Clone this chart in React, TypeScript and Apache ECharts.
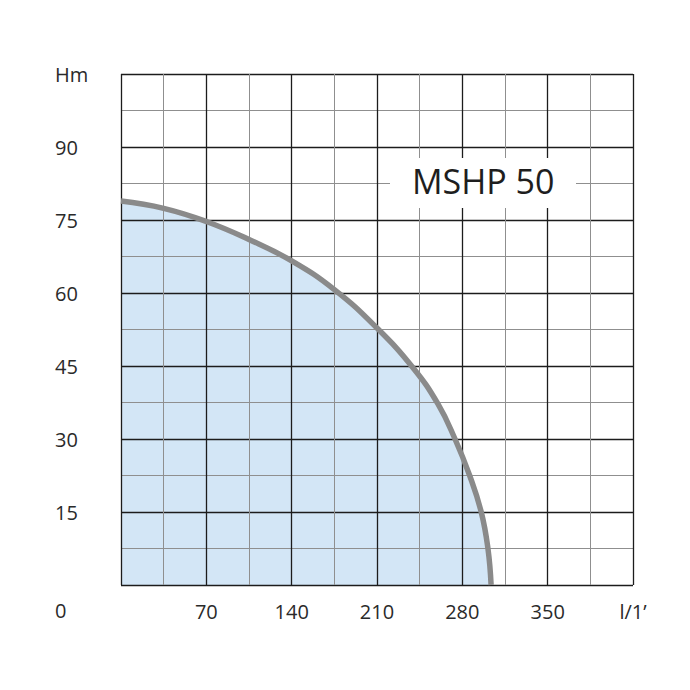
import * as echarts from 'echarts'
import { useEffect, useRef } from 'react'

// pump curve MSHP 50: flow (l/1') vs head (Hm)
const flowValues = [0, 35, 70, 105, 140, 175, 210, 240, 260, 274, 286, 295.5, 301, 303.6]
const headValues = [78.9, 77.4, 74.7, 71, 66.6, 60.7, 52.8, 44.5, 37.2, 30, 22.5, 15, 7.5, 0]

const xTicks = [70, 140, 210, 280, 350] // labelled ticks, 420 carries the unit
const yTicks = [15, 30, 45, 60, 75, 90] // 105 carries the unit
const xUnit = 'l/1’'
const yUnit = 'Hm'
const modelName = 'MSHP 50'

const FONT = '"Open Sans", "Noto Sans", sans-serif'

const App = () => {
  const chartRef = useRef<HTMLDivElement>(null)

  useEffect(() => {
    if (!chartRef.current) return
    const chart = echarts.init(chartRef.current, undefined, { renderer: 'svg' })

    const points = flowValues.map((x, i) => [x, headValues[i]])

    const minorLine = { show: true, lineStyle: { color: '#8f8f8f', width: 1 } }
    const majorLine = { show: true, lineStyle: { color: '#1c1c1c', width: 1.3 } }

    chart.setOption({
      animation: false,
      backgroundColor: '#fff',
      grid: { left: 121, top: 74, width: 512, height: 511 },
      xAxis: [
        {
          type: 'value', position: 'bottom', min: 0, max: 420, interval: 35, z: 2,
          axisLine: { show: false }, axisTick: { show: false }, axisLabel: { show: false },
          splitLine: minorLine,
        },
        {
          type: 'value', position: 'bottom', min: 0, max: 420, interval: 70, z: 2,
          axisLine: { show: false }, axisTick: { show: false },
          splitLine: majorLine,
          axisLabel: {
            margin: 16, fontSize: 20, color: '#2a2a2a', fontFamily: FONT,
            formatter: (v: number) => (v === 420 ? xUnit : xTicks.includes(v) ? String(v) : ''),
          },
        },
      ],
      yAxis: [
        {
          type: 'value', min: 0, max: 105, interval: 7.5, z: 2,
          axisLine: { show: false }, axisTick: { show: false }, axisLabel: { show: false },
          splitLine: minorLine,
        },
        {
          type: 'value', position: 'left', min: 0, max: 105, interval: 15, z: 2,
          axisLine: { show: false }, axisTick: { show: false },
          splitLine: majorLine,
          axisLabel: {
            margin: 66, align: 'left', fontSize: 20, color: '#2a2a2a', fontFamily: FONT,
            formatter: (v: number) => (v === 105 ? yUnit : yTicks.includes(v) ? String(v) : ''),
          },
        },
      ],
      graphic: [
        {
          type: 'text', left: 55, top: 600, z: 10,
          style: { text: '0', fontSize: 20, fill: '#2a2a2a', fontFamily: FONT },
        },
        {
          type: 'rect', left: 390, top: 158, z: 10,
          shape: { width: 186, height: 50 }, style: { fill: '#ffffff' },
        },
        {
          type: 'text', left: 412, top: 164, z: 11,
          style: { text: modelName, fontSize: 34, fill: '#1e1e1e', fontFamily: FONT },
        },
      ],
      series: [
        {
          type: 'line', xAxisIndex: 0, yAxisIndex: 0, data: points, smooth: 0.45,
          showSymbol: false, z: 1, lineStyle: { width: 0 },
          areaStyle: { color: '#d3e6f6', opacity: 1 },
        },
        {
          type: 'line', xAxisIndex: 0, yAxisIndex: 0, data: points, smooth: 0.45,
          showSymbol: false, z: 3, lineStyle: { width: 5.5, color: '#8a8a8a', cap: 'butt' },
        },
      ],
    })

    return () => chart.dispose()
  }, [])

  return (
    <div
      ref={chartRef}
      style={{ position: 'absolute', left: 0, top: 0, width: 690, height: 690 }}
    />
  )
}

export default App
